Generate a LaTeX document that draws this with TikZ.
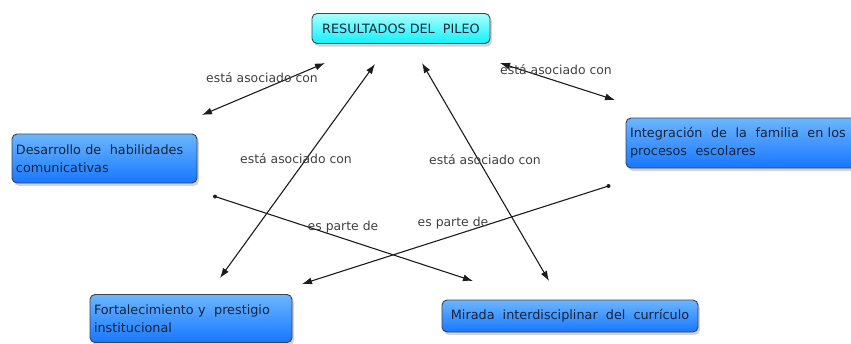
\documentclass[tikz,border=0pt]{standalone}
\usepackage{fontspec}
\setmainfont{DejaVu Sans}
\usetikzlibrary{arrows.meta,shadows}
\definecolor{boxtop}{HTML}{6CB6FF}
\definecolor{boxbot}{HTML}{1877FF}
\definecolor{boxline}{HTML}{3A4250}
\definecolor{boxtext}{HTML}{14243A}
\definecolor{cyantop}{HTML}{A8FFFF}
\definecolor{cyanbot}{HTML}{10F0F8}
\definecolor{lbl}{HTML}{404040}
\definecolor{conn}{HTML}{1C1C1C}
\begin{document}
\begin{tikzpicture}[x=1pt,y=-1pt,
  concept/.style={draw=boxline, line width=0.9pt, rounded corners=5pt,
    top color=boxtop, bottom color=boxbot, text=boxtext,
    font=\fontsize{12.8}{18}\selectfont, inner sep=4pt, align=left,
    drop shadow={shadow xshift=2pt, shadow yshift=-3pt, opacity=0.35}},
  topconcept/.style={concept, top color=cyantop, bottom color=cyanbot, align=center},
  linklbl/.style={text=lbl, font=\fontsize{12.4}{14}\selectfont, inner sep=1pt},
  link/.style={draw=conn, line width=1.1pt},
  dbl/.style={link, {Latex[length=10pt,width=7pt]}-{Latex[length=10pt,width=7pt]}},
  one/.style={link, -{Latex[length=10pt,width=7pt]}},
  dotend/.style={circle, fill=conn, inner sep=0pt, minimum size=4pt}
]
\useasboundingbox (0,0) rectangle (851,343);

% concepts
\node[topconcept, minimum width=178pt, minimum height=30pt] (res) at (401,28.5)
  {RESULTADOS DEL\ \ PILEO};
\node[concept, minimum width=185pt, minimum height=49pt, text width=177pt] (des) at (104.5,158.5)
  {Desarrollo de\ \ habilidades\\comunicativas};
\node[concept, minimum width=232pt, minimum height=50pt, text width=224pt] (int) at (742,143)
  {Integración\ \ de\ \ la\ \ familia\ \ en los\\procesos\ \ escolares};
\node[concept, minimum width=202pt, minimum height=48pt, text width=194pt] (for) at (191,318.5)
  {Fortalecimiento y\ \ prestigio\\institucional};
\node[concept, minimum width=256pt, minimum height=32pt, align=center] (mir) at (570,316)
  {Mirada\ \ interdisciplinar\ \ del\ \ currículo};

% connector end points
\coordinate (d1) at (202,115);
\coordinate (r1) at (325,63);
\coordinate (f1) at (220,278);
\coordinate (r2) at (375,64);
\coordinate (m1) at (549,281);
\coordinate (r3) at (422,63);
\coordinate (r4) at (500,63);
\coordinate (i1) at (615,100);
\node[dotend] (d2) at (215,196.5) {};
\coordinate (m2) at (473,281);
\node[dotend] (i2) at (608.5,186) {};
\coordinate (f2) at (302,284);

% connectors
\draw[dbl] (d1) -- (r1);
\draw[dbl] (f1) -- (r2);
\draw[dbl] (m1) -- (r3);
\draw[dbl] (r4) -- (i1);
\draw[one] (d2.center) -- (m2);
\draw[one] (i2.center) -- (f2);

% link labels
\node[linklbl] (l1) at (262,77.5) {está asociado con};
\node[linklbl] (l2) at (556,70) {está asociado con};
\node[linklbl] (l3) at (296,158.5) {está asociado con};
\node[linklbl] (l4) at (485,159.5) {está asociado con};
\node[linklbl] (l5) at (343,227.5) {es parte de};
\node[linklbl] (l6) at (453,223.5) {es parte de};
\end{tikzpicture}
\end{document}
